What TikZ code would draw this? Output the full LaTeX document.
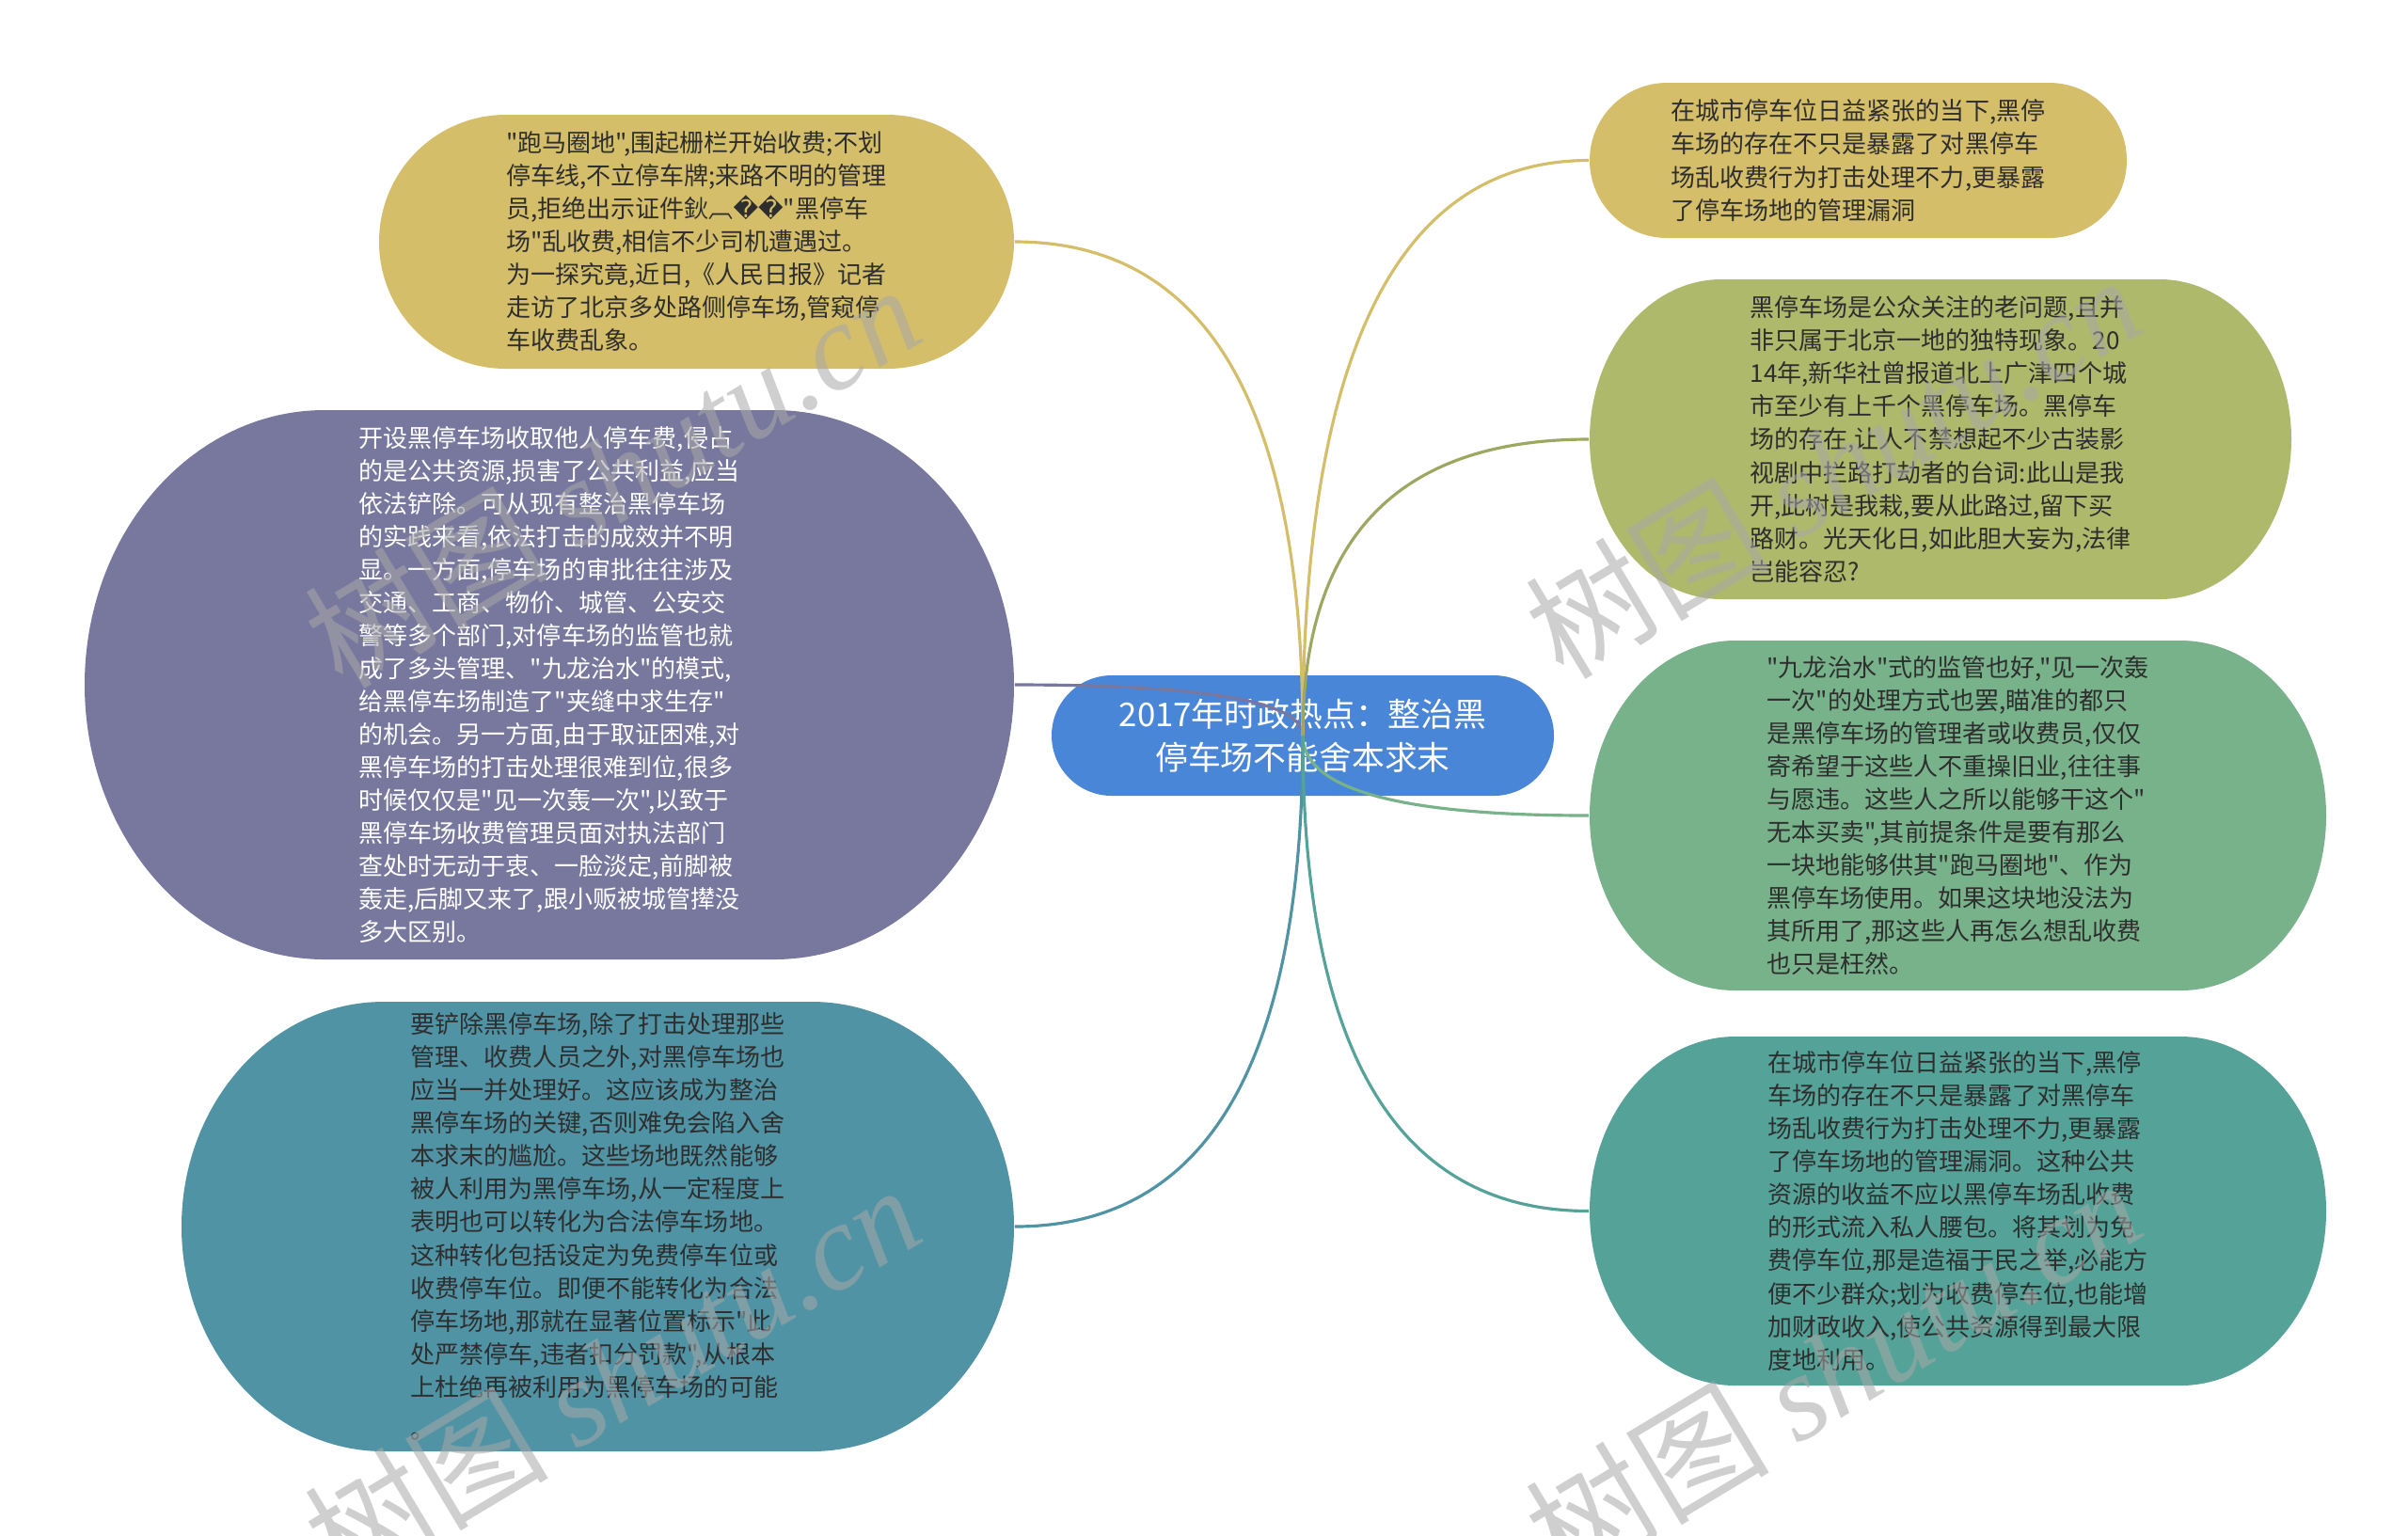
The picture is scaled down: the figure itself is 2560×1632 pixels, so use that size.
\documentclass[tikz,border=0pt]{standalone}
\usepackage{fontspec}
\setmainfont{Noto Sans CJK SC}[Ligatures=TeXOff]
\newfontfamily\cjkfont{Noto Sans CJK SC}[Ligatures=TeXOff]
\newfontfamily\replfont{DejaVu Sans}
\newfontfamily\wmserif{Liberation Serif}
\usetikzlibrary{calc}
\definecolor{cgold}{HTML}{D4BE6A}
\definecolor{cpurple}{HTML}{78789F}
\definecolor{cblteal}{HTML}{5093A5}
\definecolor{colive}{HTML}{AFB96C}
\definecolor{cgreen}{HTML}{78B28A}
\definecolor{cteal}{HTML}{55A398}
\definecolor{cblue}{HTML}{4A86D8}
\definecolor{cdark}{HTML}{2E2E2E}
\definecolor{cwm}{HTML}{A8A8A8}
\newcommand\blobshape[6]{%
  \pgfmathsetmacro\blobry{(#4-#2)/2}%
  \fill[#6] ({#1+#5},#2) -- ({#3-#5},#2)
    arc[start angle=-90,end angle=90,x radius=#5,y radius=\blobry]
    -- ({#1+#5},#4)
    arc[start angle=90,end angle=270,x radius=#5,y radius=\blobry] -- cycle;}
\newcommand\linkto[2]{%
  \draw[conn,#2] (c.center) .. controls ($(c.center)!0.667!(c.center |- #1)$) and ($(#1)!0.667!(c.center |- #1)$) .. (#1);}
\begin{document}
\begin{tikzpicture}[x=0.01cm,y=-0.01cm,
  txt/.style={inner sep=0pt, align=left, text=cdark, font=\fontsize{7.4pt}{9.96pt}\selectfont},
  lighttxt/.style={txt, text=white},
  centertxt/.style={inner sep=0pt, align=center, text=white, font=\fontsize{9.9pt}{13pt}\selectfont},
  conn/.style={line width=0.9pt},
  wmark/.style={rotate=31, text=cwm, text opacity=0.55, inner sep=0pt, font=\fontsize{37pt}{40pt}\selectfont}]
\useasboundingbox (0,0) rectangle (2560,1632);
\fill[white] (0,0) rectangle (2560,1632);
% shapes
\blobshape{403}{122}{1078}{392}{135}{cgold}
\blobshape{90}{436}{1078}{1020}{255}{cpurple}
\blobshape{193}{1065}{1078}{1543}{215}{cblteal}
\blobshape{1690}{88}{2261}{253}{82.5}{cgold}
\blobshape{1690}{297}{2436}{637}{140}{colive}
\blobshape{1690}{681}{2473}{1053}{155}{cgreen}
\blobshape{1690}{1102}{2473}{1473}{155}{cteal}
\blobshape{1118}{718}{1652}{846}{64}{cblue}
% nodes
\node[centertxt, minimum width=5.34cm, minimum height=1.28cm] (c) at (1385,782) {2017年时政热点：整治黑\\停车场不能舍本求末};
\node[txt, minimum width=6.75cm, minimum height=2.70cm] (tl) at (740.5,257) {"跑马圈地",围起栅栏开始收费;不划\\停车线,不立停车牌;来路不明的管理\\员,拒绝出示证件鈥︹{\replfont ��}"黑停车\\场"乱收费,相信不少司机遭遇过。\\为一探究竟,近日,《人民日报》记者\\走访了北京多处路侧停车场,管窥停\\车收费乱象。};
\node[lighttxt, minimum width=9.88cm, minimum height=5.84cm] (pl) at (584,728) {开设黑停车场收取他人停车费,侵占\\的是公共资源,损害了公共利益,应当\\依法铲除。可从现有整治黑停车场\\的实践来看,依法打击的成效并不明\\显。一方面,停车场的审批往往涉及\\交通、工商、物价、城管、公安交\\警等多个部门,对停车场的监管也就\\成了多头管理、"九龙治水"的模式,\\给黑停车场制造了"夹缝中求生存"\\的机会。另一方面,由于取证困难,对\\黑停车场的打击处理很难到位,很多\\时候仅仅是"见一次轰一次",以致于\\黑停车场收费管理员面对执法部门\\查处时无动于衷、一脸淡定,前脚被\\轰走,后脚又来了,跟小贩被城管撵没\\多大区别。};
\node[txt, minimum width=8.85cm, minimum height=4.78cm] (bl) at (635.5,1304) {要铲除黑停车场,除了打击处理那些\\管理、收费人员之外,对黑停车场也\\应当一并处理好。这应该成为整治\\黑停车场的关键,否则难免会陷入舍\\本求末的尴尬。这些场地既然能够\\被人利用为黑停车场,从一定程度上\\表明也可以转化为合法停车场地。\\这种转化包括设定为免费停车位或\\收费停车位。即便不能转化为合法\\停车场地,那就在显著位置标示"此\\处严禁停车,违者扣分罚款",从根本\\上杜绝再被利用为黑停车场的可能\\[3pt]。};
\node[txt, minimum width=5.71cm, minimum height=1.65cm] (tr) at (1975.5,170.5) {在城市停车位日益紧张的当下,黑停\\车场的存在不只是暴露了对黑停车\\场乱收费行为打击处理不力,更暴露\\了停车场地的管理漏洞};
\node[txt, minimum width=7.46cm, minimum height=3.40cm] (ol) at (2063,467) {黑停车场是公众关注的老问题,且并\\非只属于北京一地的独特现象。20\\14年,新华社曾报道北上广津四个城\\市至少有上千个黑停车场。黑停车\\场的存在,让人不禁想起不少古装影\\视剧中拦路打劫者的台词:此山是我\\开,此树是我栽,要从此路过,留下买\\路财。光天化日,如此胆大妄为,法律\\岂能容忍?};
\node[txt, minimum width=7.83cm, minimum height=3.72cm] (gr) at (2081.5,867) {"九龙治水"式的监管也好,"见一次轰\\一次"的处理方式也罢,瞄准的都只\\是黑停车场的管理者或收费员,仅仅\\寄希望于这些人不重操旧业,往往事\\与愿违。这些人之所以能够干这个"\\无本买卖",其前提条件是要有那么\\一块地能够供其"跑马圈地"、作为\\黑停车场使用。如果这块地没法为\\其所用了,那这些人再怎么想乱收费\\也只是枉然。};
\node[txt, minimum width=7.83cm, minimum height=3.71cm] (te) at (2081.5,1287.5) {在城市停车位日益紧张的当下,黑停\\车场的存在不只是暴露了对黑停车\\场乱收费行为打击处理不力,更暴露\\了停车场地的管理漏洞。这种公共\\资源的收益不应以黑停车场乱收费\\的形式流入私人腰包。将其划为免\\费停车位,那是造福于民之举,必能方\\便不少群众;划为收费停车位,也能增\\加财政收入,使公共资源得到最大限\\度地利用。};
% connectors
\linkto{tl.east}{cgold}
\linkto{pl.east}{cpurple}
\linkto{bl.east}{cblteal}
\linkto{tr.west}{cgold}
\linkto{ol.west}{colive!90!black}
\linkto{gr.west}{cgreen}
\linkto{te.west}{cteal}
% watermarks
\node[wmark] (wm1) at (650,505) {树图 {\wmserif\itshape shutu.cn}};
\node[wmark] (wm2) at (1948,495) {树图 {\wmserif\itshape shutu.cn}};
\node[wmark] (wm3) at (650,1462) {树图 {\wmserif\itshape shutu.cn}};
\node[wmark] (wm4) at (1948,1456) {树图 {\wmserif\itshape shutu.cn}};
\end{tikzpicture}
\end{document}
